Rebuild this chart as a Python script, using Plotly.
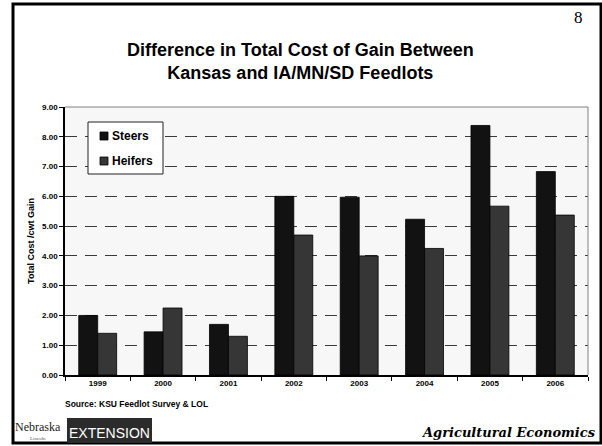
import plotly.graph_objects as go

# Survey years and cost-of-gain differences ($/cwt)
years = ["1999", "2000", "2001", "2002", "2003", "2004", "2005", "2006"]
steers = [2.00, 1.45, 1.70, 6.00, 5.97, 5.23, 8.38, 6.83]
heifers = [1.40, 2.25, 1.30, 4.70, 4.00, 4.25, 5.67, 5.37]
y_ticks = [0, 1, 2, 3, 4, 5, 6, 7, 8, 9]
y_tick_labels = [f"{v:.2f}" for v in y_ticks]
series_names = ["Steers", "Heifers"]
series_colors = ["#121212", "#363636"]

W, H = 602, 446
L, R, T, B = 65, 588, 107, 375   # plot-area edges in pixels


def px(x):
    return (x - L) / (R - L)


def py(y):
    return (B - y) / (B - T)


FONT = "Liberation Sans, Arial, sans-serif"

fig = go.Figure()
for name, vals, col in zip(series_names, [steers, heifers], series_colors):
    fig.add_trace(go.Bar(
        x=years, y=vals, name=name,
        marker=dict(color=col, line=dict(color="#000000", width=0.8)),
    ))

fig.update_layout(
    width=W, height=H,
    margin=dict(l=L, r=W - R, t=T, b=H - B, pad=0),
    paper_bgcolor="white",
    plot_bgcolor="#f7f7f7",
    barmode="group",
    bargap=0.42,
    bargroupgap=0,
    font=dict(family=FONT, color="black"),
    showlegend=False,
    xaxis=dict(
        showline=True, linecolor="black", linewidth=1.5,
        ticks="outside", tickson="boundaries", ticklen=4, tickcolor="black",
        tickfont=dict(family=FONT, size=8, color="black", weight="bold"),
        showgrid=False,
    ),
    yaxis=dict(
        range=[0, 9],
        tickvals=y_ticks, ticktext=y_tick_labels,
        showline=True, linecolor="black", linewidth=1.5,
        ticks="outside", ticklen=4, tickcolor="black",
        tickfont=dict(family=FONT, size=8, color="black", weight="bold"),
        showgrid=True, gridcolor="#3a3a3a", gridwidth=1, griddash="12px,8px",
        zeroline=False,
        title=dict(text="Total Cost /cwt Gain", standoff=6,
                   font=dict(family=FONT, size=9, color="black", weight="bold")),
    ),
)

shapes = [
    # outer slide frame
    dict(type="rect", xref="paper", yref="paper",
         x0=px(13), x1=px(601), y0=py(443), y1=py(4),
         line=dict(color="black", width=3), fillcolor="rgba(0,0,0,0)", layer="below"),
    # plot-area frame (top / right)
    dict(type="line", xref="paper", yref="paper", x0=0, x1=1, y0=1, y1=1,
         line=dict(color="#808080", width=1)),
    dict(type="line", xref="paper", yref="paper", x0=1, x1=1, y0=0, y1=1,
         line=dict(color="#808080", width=1)),
    # legend box
    dict(type="rect", xref="paper", yref="paper",
         x0=px(88), x1=px(163), y0=py(174), y1=py(122),
         line=dict(color="#222222", width=1), fillcolor="white"),
    # extension banner
    dict(type="rect", xref="paper", yref="paper",
         x0=px(67), x1=px(152), y0=py(443), y1=py(418),
         line=dict(width=0), fillcolor="#2b2b2b"),
]

annotations = []
legend_rows = [136, 161]
for name, col, yy in zip(series_names, series_colors, legend_rows):
    shapes.append(dict(type="rect", xref="paper", yref="paper",
                       x0=px(100), x1=px(108), y0=py(yy + 4), y1=py(yy - 4),
                       line=dict(color="black", width=0.8), fillcolor=col))
    annotations.append(dict(text=f"<b>{name}</b>", x=px(110), y=py(yy),
                            xref="paper", yref="paper", showarrow=False,
                            xanchor="left", yanchor="middle",
                            font=dict(family=FONT, size=12, color="black")))

annotations += [
    dict(text="<b>Difference in Total Cost of Gain Between<br>Kansas and IA/MN/SD Feedlots</b>",
         x=px(300), y=py(61), xref="paper", yref="paper", showarrow=False,
         xanchor="center", yanchor="middle",
         font=dict(family=FONT, size=18, color="black"), align="center"),
    dict(text="8", x=px(578), y=py(17), xref="paper", yref="paper", showarrow=False,
         xanchor="center", yanchor="middle",
         font=dict(family="Liberation Serif, Times New Roman, serif", size=17, color="black")),
    dict(text="<b>Source: KSU Feedlot Survey &amp; LOL</b>", x=px(63), y=py(404),
         xref="paper", yref="paper", showarrow=False, xanchor="left", yanchor="middle",
         font=dict(family=FONT, size=8.5, color="black")),
    dict(text="Nebraska", x=px(13), y=py(427), xref="paper", yref="paper",
         showarrow=False, xanchor="left", yanchor="middle",
         font=dict(family="Liberation Serif, serif", size=12, color="#222222")),
    dict(text="Lincoln", x=px(38), y=py(438), xref="paper", yref="paper",
         showarrow=False, xanchor="center", yanchor="middle",
         font=dict(family="Liberation Serif, serif", size=5, color="#555555")),
    dict(text="EXTENSION", x=px(109), y=py(433), xref="paper", yref="paper",
         showarrow=False, xanchor="center", yanchor="middle",
         font=dict(family="Liberation Sans Narrow, " + FONT, size=14, color="white")),
    dict(text="<b><i>Agricultural Economics</i></b>", x=px(598), y=py(432),
         xref="paper", yref="paper", showarrow=False, xanchor="right", yanchor="middle",
         font=dict(family="DejaVu Serif, serif", size=13, color="black")),
]

fig.update_layout(shapes=shapes, annotations=annotations)

fig.write_html("out.html")
